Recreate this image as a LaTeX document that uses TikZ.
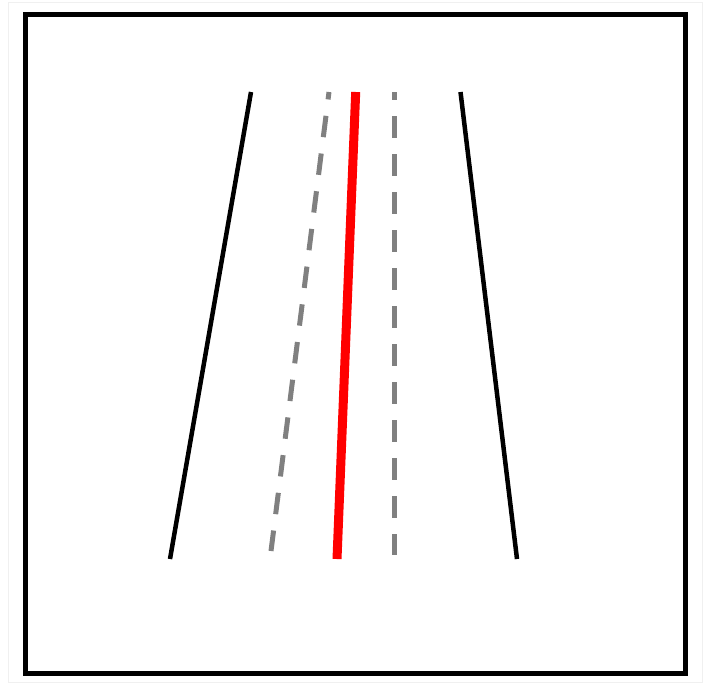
\documentclass[tikz,border=0pt]{standalone}
\begin{document}
\begin{tikzpicture}[x=1pt,y=-1pt,
  edge/.style={black,line width=4.5pt},
  lane/.style={gray,line width=5pt,dash pattern=on 21.5pt off 16.5pt,dash phase=14pt},
  centre/.style={red,line width=9pt}]
\useasboundingbox (0,0) rectangle (703,683);
\draw[black!6,line width=0.8pt] (8.5,2.5) rectangle (702,682);
\draw[black,line width=5pt] (25.5,14) rectangle (685.5,673.5);
\coordinate (lt) at (251,92);  \coordinate (lb) at (170,559);
\coordinate (rt) at (460.5,92); \coordinate (rb) at (517,559);
\coordinate (ct) at (355.7,92); \coordinate (cb) at (337,559);
\coordinate (dlt) at (329,92); \coordinate (dlb) at (271,551);
\coordinate (drt) at (394.5,92); \coordinate (drb) at (394.5,555);
\draw[edge] (lt) -- (lb);
\draw[edge] (rt) -- (rb);
\draw[lane] (dlt) -- (dlb);
\draw[lane] (drt) -- (drb);
\draw[centre] (ct) -- (cb);
\end{tikzpicture}
\end{document}
